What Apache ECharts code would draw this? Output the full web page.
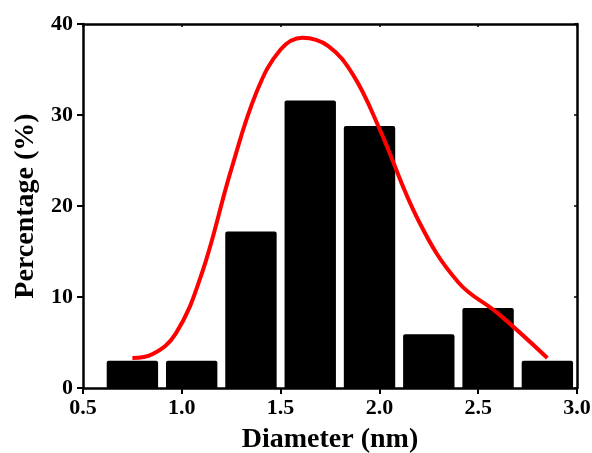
<!DOCTYPE html>
<html><head><meta charset="utf-8">
<script src="https://cdn.jsdelivr.net/npm/echarts@6/dist/echarts.min.js"></script>
<style>html,body{margin:0;padding:0;background:#fff}#c{width:592px;height:453px}</style>
</head><body><div id="c"></div>
<script>
var binCenters = [0.75, 1.05, 1.35, 1.65, 1.95, 2.25, 2.55, 2.85];
var binPercent = [3.0, 3.0, 17.2, 31.6, 28.8, 5.9, 8.8, 3.0];
var binHalfWidth = 0.13;
var fitX = [0.75, 0.85, 0.97, 1.1, 1.25, 1.38, 1.5, 1.61, 1.74, 1.87, 2.0, 2.2, 2.4, 2.6, 2.85];
var fitY = [3.3, 3.7, 6.0, 12.5, 24.0, 32.6, 37.2, 38.5, 37.6, 34.3, 28.5, 18.3, 11.6, 8.2, 3.3];
var xTicks = {min:0.5, max:3.0, interval:0.5};
var yTicks = {min:0, max:40, interval:10};

var font = "'Liberation Serif', 'Times New Roman', serif";
var chart = echarts.init(document.getElementById('c'));
var axisLine = {show:true, onZero:false, lineStyle:{color:'#000', width:2.5}};
chart.setOption({
  animation:false,
  grid:{left:83, right:15, top:24, bottom:65, containLabel:false, outerBoundsMode:'none'},
  xAxis:[{
    type:'value', min:xTicks.min, max:xTicks.max, interval:xTicks.interval,
    axisLine:axisLine, axisTick:{show:true, length:6, lineStyle:{color:'#000', width:2}},
    splitLine:{show:false},
    axisLabel:{color:'#000', fontFamily:font, fontWeight:'bold', fontSize:22, margin:9,
      formatter:function(v){return v.toFixed(1);}},
    name:'Diameter (nm)', nameLocation:'middle', nameGap:38,
    nameTextStyle:{color:'#000', fontFamily:font, fontWeight:'bold', fontSize:28}
  },{
    type:'value', position:'top', min:xTicks.min, max:xTicks.max, interval:xTicks.interval,
    axisLine:axisLine, axisTick:{show:true, inside:true, length:3, lineStyle:{color:'#000', width:1.5}},
    axisLabel:{show:false}, splitLine:{show:false}
  }],
  yAxis:[{
    type:'value', min:yTicks.min, max:yTicks.max, interval:yTicks.interval,
    axisLine:axisLine, axisTick:{show:true, length:6, lineStyle:{color:'#000', width:2}},
    splitLine:{show:false},
    axisLabel:{color:'#000', fontFamily:font, fontWeight:'bold', fontSize:22, margin:10},
    name:'Percentage (%)', nameLocation:'middle', nameGap:37,
    nameTextStyle:{color:'#000', fontFamily:font, fontWeight:'bold', fontSize:28}
  },{
    type:'value', position:'right', min:yTicks.min, max:yTicks.max, interval:yTicks.interval,
    axisLine:axisLine, axisTick:{show:true, inside:true, length:3, lineStyle:{color:'#000', width:1.5}},
    axisLabel:{show:false}, splitLine:{show:false}
  }],
  series:[{
    type:'custom',
    xAxisIndex:0, yAxisIndex:0,
    data:binCenters.map(function(c,i){return [c, binPercent[i]];}),
    renderItem:function(params, api){
      var c = api.value(0), v = api.value(1);
      var p0 = api.coord([c - binHalfWidth, v]);
      var p1 = api.coord([c + binHalfWidth, 0]);
      return {type:'rect', shape:{x:p0[0], y:p0[1], width:p1[0]-p0[0], height:p1[1]-p0[1], r:[2,2,0,0]},
        style:{fill:'#000'}};
    },
    z:2
  },{
    type:'line', xAxisIndex:0, yAxisIndex:0,
    data:fitX.map(function(x,i){return [x, fitY[i]];}),
    smooth:0.4, showSymbol:false,
    lineStyle:{color:'#ff0000', width:4}, z:3
  }]
});
</script></body></html>
